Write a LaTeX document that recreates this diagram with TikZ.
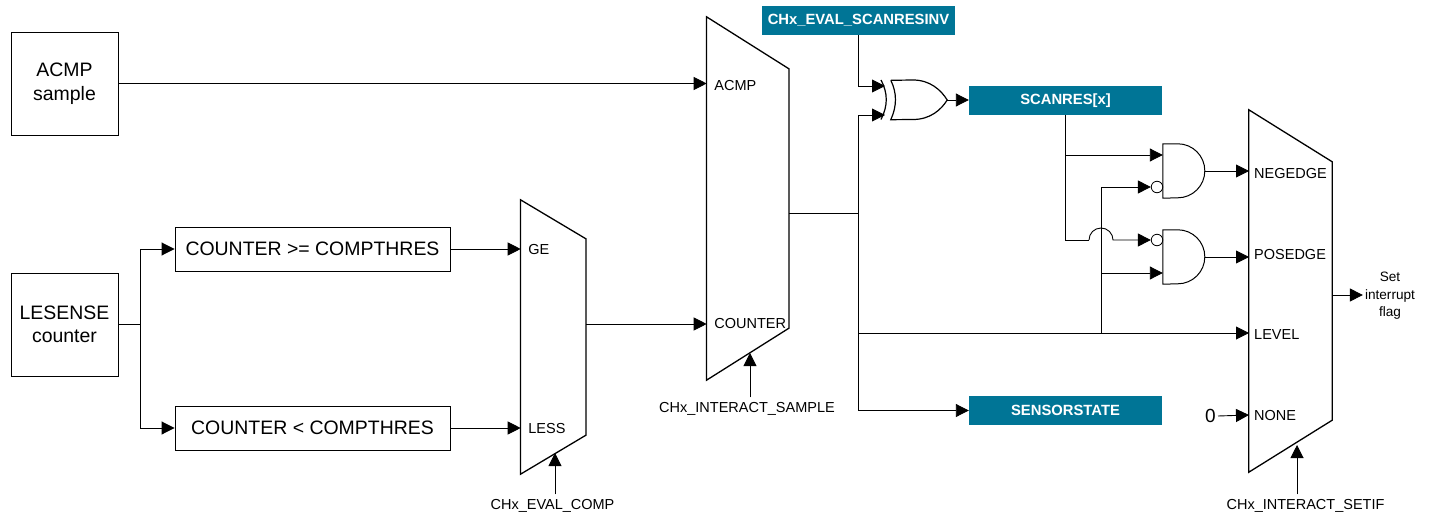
\documentclass[tikz,border=0pt]{standalone}
\usepackage{fontspec}
\setmainfont{Liberation Sans}
\usetikzlibrary{arrows.meta}
\definecolor{accent}{RGB}{0,117,150}
\tikzset{
    bigbox/.style={draw, line width=0.9pt, inner sep=0pt, align=center, font=\fontsize{19.45}{23.5}\selectfont},
    regbox/.style={fill=accent, text=white, inner sep=0pt, minimum width=193, minimum height=29, font=\fontsize{14.8}{17}\bfseries\selectfont},
    muxbox/.style={inner sep=0pt},
    gatebox/.style={inner sep=0pt, minimum width=42, minimum height=54},
    portlabel/.style={anchor=west, inner sep=0pt, inner xsep=7.5pt, text height=10pt, text depth=0pt, font=\fontsize{14.5}{17}\selectfont},
    setiflabel/.style={portlabel, inner xsep=5pt},
    sellabel/.style={inner xsep=0pt, inner ysep=5pt, text height=10pt, text depth=3pt, font=\fontsize{14.5}{17}\selectfont},
    bubble/.style={draw, circle, inner sep=0pt, minimum size=11.5, line width=0.8pt},
    wire/.style={line width=0.9pt},
}
\begin{document}
\begin{tikzpicture}[x=1pt, y=-1pt, >={Triangle[length=13pt,width=13pt]}]
    \useasboundingbox (0,0) rectangle (1431,516);

    \node[bigbox, minimum width=107, minimum height=103] (acmp) at (64.5,83.5) {ACMP\\sample};
    \node[bigbox, minimum width=107, minimum height=103] (lesense) at (64.5,324.5) {LESENSE\\counter};
    \node[bigbox, minimum width=275, minimum height=44] (cmpge) at (312.5,249) {COUNTER >= COMPTHRES};
    \node[bigbox, minimum width=275, minimum height=44] (cmpless) at (312.5,428) {COUNTER < COMPTHRES};

    \node[regbox] (scaninv) at (858.5,20.5) {CHx\_EVAL\_SCANRESINV};
    \node[regbox] (scanres) at (1065.5,100.5) {SCANRES[x]};
    \node[regbox] (state) at (1065.5,410.5) {SENSORSTATE};

    \node[muxbox, minimum width=65, minimum height=274] (muxcomp) at (553.2,337) {};
    \node[muxbox, minimum width=82, minimum height=363] (muxsample) at (747.7,198.5) {};
    \node[muxbox, minimum width=83, minimum height=362] (muxsetif) at (1290.5,291) {};
    \foreach \m/\s in {muxcomp/39pt, muxsample/52pt, muxsetif/52pt}
        \draw[line width=1.3pt, line join=miter] (\m.north west) -- ([yshift=-\s]\m.north east)
            -- ([yshift=\s]\m.south east) -- (\m.south west) -- cycle;

    \node[portlabel] (portge) at (520.7,249) {GE};
    \node[portlabel] (portless) at (520.7,428) {LESS};
    \node[portlabel] (portacmp) at (706.7,85.5) {ACMP};
    \node[portlabel] (portcnt) at (706.7,323) {COUNTER};
    \node[setiflabel] (portneg) at (1249,173.5) {NEGEDGE};
    \node[setiflabel] (portpos) at (1249,254) {POSEDGE};
    \node[setiflabel] (portlevel) at (1249,334.5) {LEVEL};
    \node[setiflabel] (portnone) at (1249,415) {NONE};

    \node[sellabel] (lblcomp) at (552.5,506) {CHx\_EVAL\_COMP};
    \node[sellabel] (lblsample) at (747,409) {CHx\_INTERACT\_SAMPLE};
    \node[sellabel] (lblsetif) at (1305.5,506) {CHx\_INTERACT\_SETIF};
    \node[inner sep=2pt, align=center, font=\fontsize{13.6}{17.5}\selectfont] (flag) at (1390,296) {Set\\interrupt\\flag};
    \node[inner sep=2pt, font=\fontsize{19}{24}\selectfont] (zero) at (1210.5,416) {0};

    \node[gatebox] (andneg) at (1184,171) {};
    \node[gatebox] (andpos) at (1184,257) {};
    \foreach \g in {andneg, andpos}
        \draw[line width=1pt] (\g.north west) -- ++(15,0) arc[start angle=-90, end angle=90, x radius=27, y radius=27] -- (\g.south west) -- cycle;
    \node[bubble] (bubneg) at (1157,187) {};
    \node[bubble] (bubpos) at (1157,240) {};

    \node[inner sep=0pt, minimum width=56, minimum height=39] (xorgate) at (919,100) {};
    \draw[line width=1.2pt] (xorgate.north west) -- (913,80) .. controls (930,80) and (941,90) .. (xorgate.east)
        .. controls (941,110) and (930,119.5) .. (913,119.5) -- (xorgate.south west)
        .. controls (897,106) and (897,93) .. (xorgate.north west);
    \draw[line width=1.2pt] (881,80) .. controls (888,93) and (888,106) .. (881,119.5);

    \coordinate (xorup) at (885,86);
    \coordinate (xordown) at (885,115);
    \coordinate (split) at (140,324.5);
    \coordinate (outsample) at (858,213);
    \coordinate (level) at (858,333);
    \coordinate (tap) at (1101,333);
    \coordinate (selcomp) at (555,453);
    \coordinate (selsample) at (750,353);
    \coordinate (selsetif) at (1297,445);

    \draw[->, wire] (acmp.east) -- (acmp.east -| portacmp.west);
    \draw[wire] (lesense.east) -- (split);
    \draw[->, wire] (split) |- (cmpge.west);
    \draw[->, wire] (split) |- (cmpless.west);
    \draw[->, wire] (cmpge.east) -- (portge.west);
    \draw[->, wire] (cmpless.east) -- (portless.west);
    \draw[->, wire] (muxcomp.east |- 0,324) -- (portcnt.west |- 0,324);

    \draw[wire] (muxsample.east |- outsample) -- (outsample);
    \draw[->, wire] (scaninv.south) |- (xorup);
    \draw[->, wire] (outsample) |- (xordown);
    \draw[->, wire] (xorgate.east) -- (scanres.west |- xorgate.east);
    \draw[->, wire] (outsample) |- (state.west);
    \draw[->, wire] (level) -- (level -| portlevel.west);

    \draw[->, wire] (scanres.south) |- (andneg.west |- 0,155);
    \draw[wire] (scanres.south) -- (scanres.south |- bubpos) -- (1089,240);
    \draw[->, wire] (1089,240) arc[start angle=180, end angle=360, radius=12] -- (bubpos.west);
    \draw[->, wire] (tap) |- (bubneg.west);
    \draw[->, wire] (tap |- 0,273) -- (andpos.west |- 0,273);
    \draw[->, wire] (andneg.east) -- (andneg.east -| portneg.west);
    \draw[->, wire] (andpos.east) -- (andpos.east -| portpos.west);

    \draw[->, wire] (muxsetif.east |- 0,295) -- (flag.west |- 0,295);
    \draw[->, wire] (zero.east) -- (portnone.west);

    \draw[->, wire] (selcomp |- lblcomp.north) -- (selcomp);
    \draw[->, wire] (selsample |- lblsample.north) -- (selsample);
    \draw[->, wire] (selsetif |- lblsetif.north) -- (selsetif);
\end{tikzpicture}
\end{document}
